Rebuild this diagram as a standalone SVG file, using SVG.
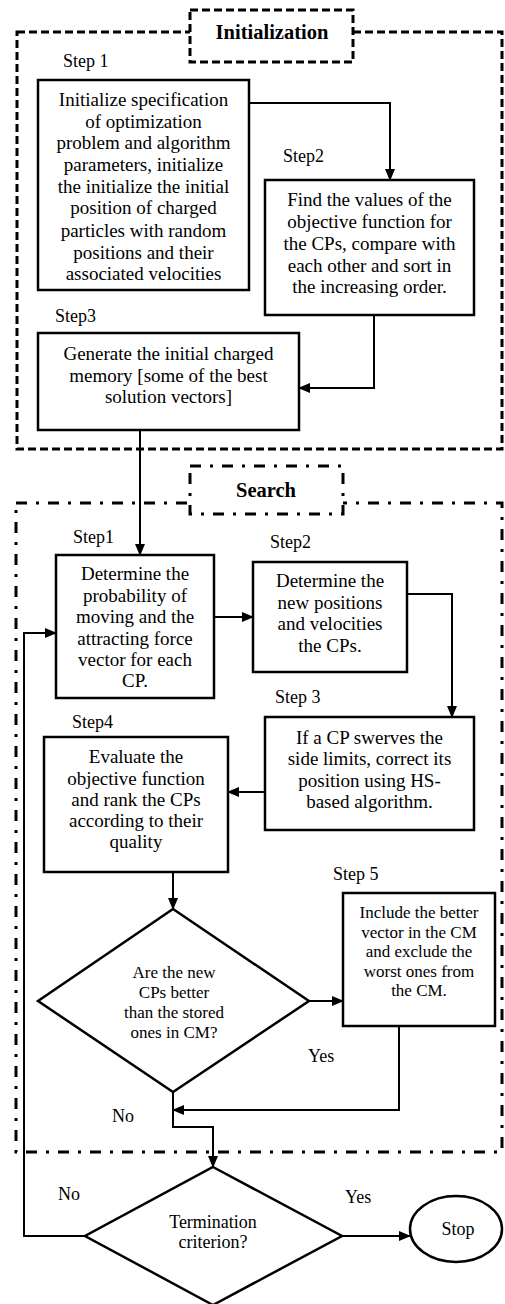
<svg xmlns="http://www.w3.org/2000/svg" width="505" height="1304" viewBox="0 0 505 1304">
<style>
text{font-family:"Liberation Serif","Times New Roman",serif;fill:#000}
.t{font-size:19px;text-anchor:middle}
.s{font-size:17px;text-anchor:middle}
.lbl{font-size:18px}
.hd{font-size:20.5px;font-weight:bold;text-anchor:middle}
.box{fill:#fff;stroke:#000;stroke-width:2.5}
.dash{fill:none;stroke:#000;stroke-width:3;stroke-dasharray:8 4}
.dd{fill:none;stroke:#000;stroke-width:3;stroke-dasharray:11 9 3 9}
.c{fill:none;stroke:#000;stroke-width:2}
.ca{fill:none;stroke:#000;stroke-width:2;marker-end:url(#ah)}
</style>
<defs>
<marker id="ah" markerUnits="userSpaceOnUse" markerWidth="12" markerHeight="10" refX="11" refY="5" orient="auto">
<path d="M0,0 L12,5 L0,10 Z" fill="#000"/>
</marker>
</defs>
<rect x="0" y="0" width="505" height="1304" fill="#fff"/>
<g id="frame-init">
<rect class="dash" x="17" y="32" width="485" height="417"/>
<rect class="dash" x="190" y="10" width="163" height="52" style="fill:#fff"/>
<text class="hd" x="272" y="39">Initialization</text>
</g>
<g id="frame-search">
<rect class="dd" x="16" y="503" width="486" height="649"/>
<rect class="dd" x="190" y="466" width="153" height="48" style="fill:#fff"/>
<text class="hd" x="266" y="497">Search</text>
</g>
<g id="connectors">
<path class="ca" d="M249,103 H390 V180"/>
<path class="ca" d="M374,315 V388 H299"/>
<path class="ca" d="M140,430 V555"/>
<path class="ca" d="M214,617 H253"/>
<path class="ca" d="M407,594 H452 V717"/>
<path class="ca" d="M265,792 H228"/>
<path class="ca" d="M173,872 V909"/>
<path class="ca" d="M309,1001 H343"/>
<path class="ca" d="M399,1026 V1110 H173"/>
<path class="ca" d="M173,1092 V1127 H213 V1167"/>
<path class="ca" d="M342,1236 H410"/>
<path class="ca" d="M85,1236 H24 V633 H56"/>
</g>
<g id="init-step1">
<text class="lbl" x="63" y="67">Step 1</text>
<rect class="box" x="38" y="80" width="211" height="210"/>
<text class="t" x="143.5" y="106">Initialize specification</text>
<text class="t" x="143.5" y="128">of optimization</text>
<text class="t" x="143.5" y="149">problem and algorithm</text>
<text class="t" x="143.5" y="171">parameters, initialize</text>
<text class="t" x="143.5" y="193">the initialize the initial</text>
<text class="t" x="143.5" y="214">position of charged</text>
<text class="t" x="143.5" y="237">particles with random</text>
<text class="t" x="143.5" y="259">positions and their</text>
<text class="t" x="143.5" y="280">associated velocities</text>
</g>
<g id="init-step2">
<text class="lbl" x="283" y="162">Step2</text>
<rect class="box" x="265" y="180" width="209" height="135"/>
<text class="t" x="369.5" y="206">Find the values of the</text>
<text class="t" x="369.5" y="228">objective function for</text>
<text class="t" x="369.5" y="250">the CPs, compare with</text>
<text class="t" x="369.5" y="272">each other and sort in</text>
<text class="t" x="369.5" y="293">the increasing order.</text>
</g>
<g id="init-step3">
<text class="lbl" x="55" y="322">Step3</text>
<rect class="box" x="38" y="333" width="261" height="97"/>
<text class="t" x="168.5" y="360">Generate the initial charged</text>
<text class="t" x="168.5" y="382">memory [some of the best</text>
<text class="t" x="168.5" y="403">solution vectors]</text>
</g>
<g id="search-step1">
<text class="lbl" x="73" y="543">Step1</text>
<rect class="box" x="56" y="555" width="158" height="143"/>
<text class="t" x="135" y="580">Determine the</text>
<text class="t" x="135" y="602">probability of</text>
<text class="t" x="135" y="623">moving and the</text>
<text class="t" x="135" y="645">attracting force</text>
<text class="t" x="135" y="666">vector for each</text>
<text class="t" x="135" y="687">CP.</text>
</g>
<g id="search-step2">
<text class="lbl" x="270" y="548">Step2</text>
<rect class="box" x="253" y="562" width="154" height="110"/>
<text class="t" x="330" y="587">Determine the</text>
<text class="t" x="330" y="609">new positions</text>
<text class="t" x="330" y="630">and velocities</text>
<text class="t" x="330" y="652">the CPs.</text>
</g>
<g id="search-step3">
<text class="lbl" x="275" y="703">Step 3</text>
<rect class="box" x="265" y="717" width="209" height="113"/>
<text class="t" x="369.5" y="744">If a CP swerves the</text>
<text class="t" x="369.5" y="765">side limits, correct its</text>
<text class="t" x="369.5" y="787">position using HS-</text>
<text class="t" x="369.5" y="808">based algorithm.</text>
</g>
<g id="search-step4">
<text class="lbl" x="72" y="728">Step4</text>
<rect class="box" x="44" y="737" width="184" height="135"/>
<text class="t" x="136" y="763">Evaluate the</text>
<text class="t" x="136" y="785">objective function</text>
<text class="t" x="136" y="806">and rank the CPs</text>
<text class="t" x="136" y="827">according to their</text>
<text class="t" x="136" y="848">quality</text>
</g>
<g id="search-step5">
<text class="lbl" x="333" y="880">Step 5</text>
<rect class="box" x="343" y="893" width="152" height="133"/>
<text class="s" x="419" y="918">Include the better</text>
<text class="s" x="419" y="938">vector in the CM</text>
<text class="s" x="419" y="957">and exclude the</text>
<text class="s" x="419" y="977">worst ones from</text>
<text class="s" x="419" y="996">the CM.</text>
</g>
<g id="decision-better">
<path class="box" d="M173,909 L309,1001 L173,1092 L38,1001 Z"/>
<text class="s" x="174" y="978">Are the new</text>
<text class="s" x="174" y="998">CPs better</text>
<text class="s" x="174" y="1018">than the stored</text>
<text class="s" x="174" y="1038">ones in CM?</text>
<text class="lbl" x="308" y="1062">Yes</text>
<text class="lbl" x="112" y="1122">No</text>
</g>
<g id="decision-termination">
<path class="box" d="M213,1167 L342,1236 L213,1305 L85,1236 Z"/>
<text class="lbl" x="213" y="1228" text-anchor="middle">Termination</text>
<text class="lbl" x="213" y="1248" text-anchor="middle">criterion?</text>
<text class="lbl" x="58" y="1200">No</text>
<text class="lbl" x="345" y="1203">Yes</text>
</g>
<g id="stop">
<ellipse class="box" cx="456" cy="1229" rx="46" ry="33"/>
<text class="lbl" x="458" y="1235" text-anchor="middle">Stop</text>
</g>
</svg>
